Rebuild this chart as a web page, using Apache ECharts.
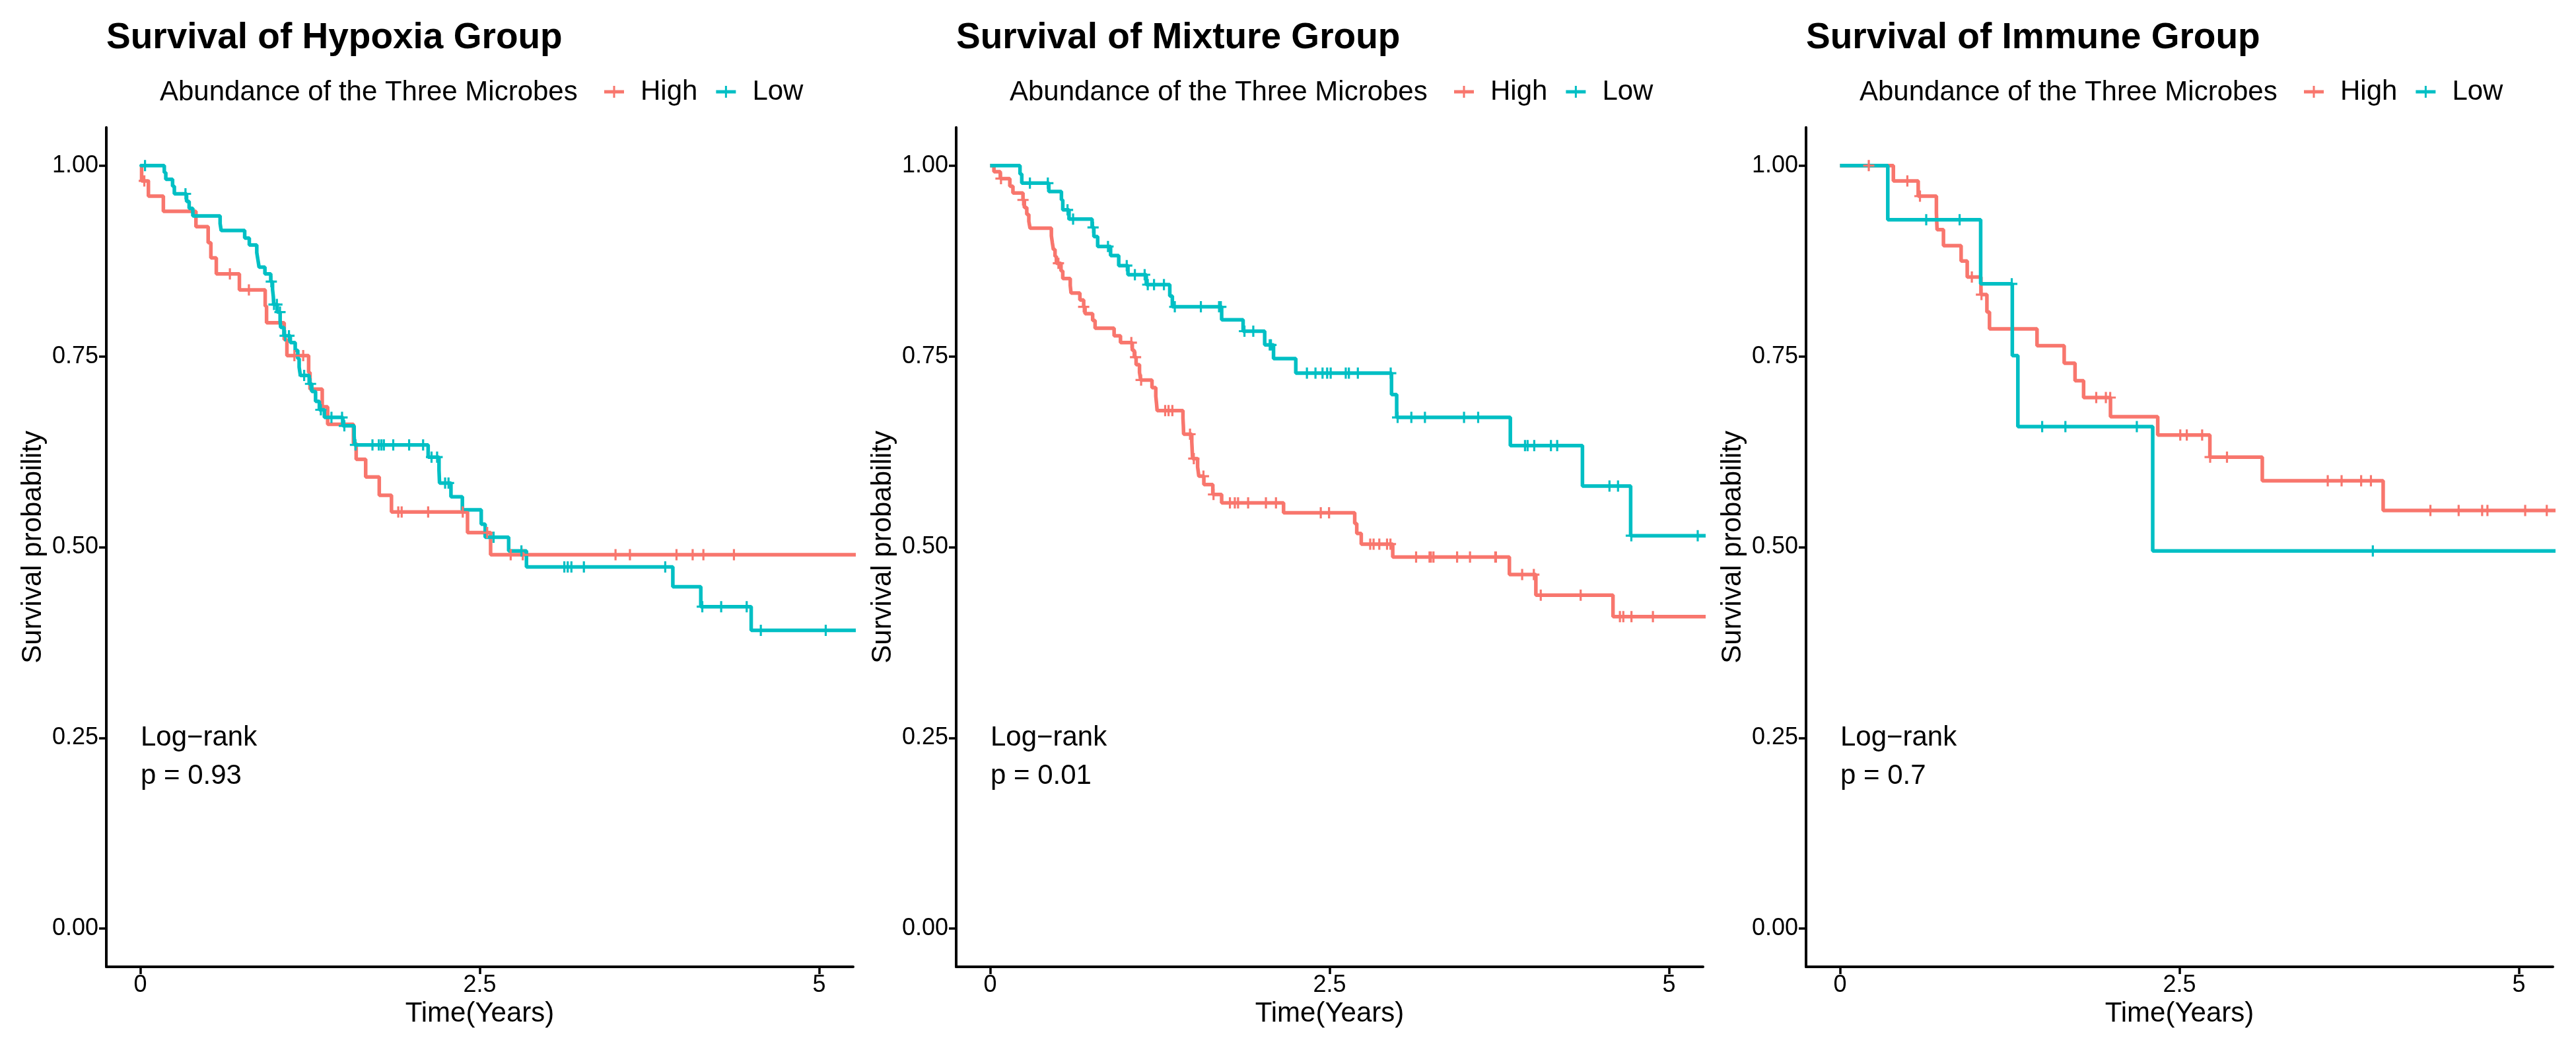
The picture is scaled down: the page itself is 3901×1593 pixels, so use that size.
<!DOCTYPE html>
<html>
<head>
<meta charset="utf-8">
<script src="https://cdn.jsdelivr.net/npm/echarts@6/dist/echarts.min.js"></script>
<style>
html,body{margin:0;padding:0;background:#ffffff;}
#chart{width:3901px;height:1593px;}
</style>
</head>
<body>
<div id="chart"></div>
<script>
// ---------------- DATA ----------------
var panelTitles = ['Survival of Hypoxia Group', 'Survival of Mixture Group', 'Survival of Immune Group'];
var legendTitle = 'Abundance of the Three Microbes';
var groupNames = ['High', 'Low'];
var pValues = ['p = 0.93', 'p = 0.01', 'p = 0.7'];
var methodLabel = 'Log\u2212rank';
var xTicks = [0, 2.5, 5];
var yTicks = [0, 0.25, 0.5, 0.75, 1];
var followEnd = 5.3;

// Hypoxia group
var hypHighT = [0.01, 0.06, 0.17, 0.41, 0.50, 0.52, 0.56, 0.73, 0.92, 0.93, 1.06, 1.08, 1.24, 1.25, 1.34, 1.38, 1.57, 1.59, 1.66, 1.76, 1.85, 2.41, 2.58];
var hypHighS = [0.980, 0.960, 0.940, 0.920, 0.899, 0.879, 0.858, 0.837, 0.816, 0.794, 0.772, 0.751, 0.729, 0.707, 0.684, 0.661, 0.636, 0.615, 0.592, 0.568, 0.546, 0.519, 0.490];
var hypHighCens = [0.03, 0.66, 0.80, 1.135, 1.20, 1.90, 1.925, 2.12, 2.375, 2.555, 2.728, 2.817, 3.50, 3.606, 3.949, 4.068, 4.147, 4.372];
var hypLowT = [0.177, 0.188, 0.238, 0.251, 0.341, 0.360, 0.387, 0.588, 0.596, 0.769, 0.803, 0.858, 0.866, 0.875, 0.918, 0.961, 0.974, 0.980, 0.983, 1.008, 1.030, 1.034, 1.058, 1.105, 1.141, 1.160, 1.170, 1.179, 1.244, 1.263, 1.291, 1.319, 1.356, 1.492, 1.575, 1.579, 2.120, 2.200, 2.204, 2.288, 2.372, 2.511, 2.540, 2.713, 2.844, 3.922, 4.128, 4.499];
var hypLowS = [0.991, 0.982, 0.973, 0.963, 0.953, 0.944, 0.934, 0.924, 0.915, 0.905, 0.896, 0.886, 0.877, 0.867, 0.858, 0.848, 0.838, 0.828, 0.818, 0.808, 0.797, 0.788, 0.777, 0.768, 0.758, 0.747, 0.736, 0.725, 0.714, 0.704, 0.691, 0.680, 0.670, 0.659, 0.646, 0.634, 0.618, 0.601, 0.584, 0.566, 0.549, 0.530, 0.513, 0.495, 0.474, 0.448, 0.422, 0.391];
var hypLowCens = [0.035, 0.333, 0.965, 0.985, 1.006, 1.029, 1.067, 1.095, 1.207, 1.254, 1.330, 1.408, 1.486, 1.503, 1.585, 1.710, 1.757, 1.776, 1.794, 1.863, 1.980, 2.083, 2.145, 2.186, 2.245, 2.270, 2.602, 2.807, 3.123, 3.148, 3.175, 3.267, 3.866, 4.139, 4.278, 4.466, 4.570, 5.048];

// Mixture group
var mixHighT = [0.028, 0.075, 0.145, 0.168, 0.242, 0.252, 0.270, 0.285, 0.294, 0.451, 0.458, 0.466, 0.478, 0.488, 0.522, 0.535, 0.590, 0.596, 0.661, 0.689, 0.699, 0.755, 0.773, 0.913, 0.960, 1.047, 1.062, 1.075, 1.100, 1.109, 1.192, 1.220, 1.225, 1.230, 1.420, 1.423, 1.425, 1.485, 1.488, 1.491, 1.528, 1.537, 1.574, 1.640, 1.705, 2.161, 2.685, 2.700, 2.733, 2.965, 3.824, 4.019, 4.587];
var mixHighS = [0.992, 0.983, 0.973, 0.964, 0.955, 0.945, 0.936, 0.927, 0.918, 0.908, 0.899, 0.890, 0.881, 0.872, 0.862, 0.852, 0.843, 0.833, 0.824, 0.815, 0.806, 0.797, 0.787, 0.777, 0.768, 0.758, 0.749, 0.739, 0.729, 0.719, 0.709, 0.698, 0.689, 0.679, 0.669, 0.659, 0.648, 0.638, 0.627, 0.616, 0.605, 0.593, 0.582, 0.569, 0.558, 0.545, 0.531, 0.518, 0.504, 0.487, 0.464, 0.437, 0.409];
var mixHighCens = [0.080, 0.242, 0.503, 0.689, 1.040, 1.071, 1.112, 1.289, 1.314, 1.342, 1.472, 1.500, 1.571, 1.645, 1.766, 1.802, 1.826, 1.900, 2.031, 2.105, 2.435, 2.496, 2.799, 2.824, 2.866, 2.923, 2.948, 3.137, 3.236, 3.246, 3.265, 3.439, 3.534, 3.720, 3.725, 3.918, 4.004, 4.055, 4.349, 4.638, 4.663, 4.723, 4.881];
var mixLowT = [0.220, 0.233, 0.432, 0.525, 0.535, 0.581, 0.751, 0.764, 0.792, 0.887, 0.947, 1.015, 1.150, 1.323, 1.342, 1.705, 1.863, 2.022, 2.087, 2.251, 2.956, 2.994, 3.831, 4.362, 4.717];
var mixLowS = [0.989, 0.977, 0.966, 0.955, 0.942, 0.930, 0.919, 0.907, 0.894, 0.882, 0.869, 0.857, 0.844, 0.829, 0.815, 0.798, 0.783, 0.765, 0.747, 0.728, 0.700, 0.670, 0.633, 0.580, 0.515];
var mixLowCens = [0.293, 0.425, 0.570, 0.611, 0.758, 0.868, 1.006, 1.066, 1.138, 1.161, 1.207, 1.280, 1.360, 1.552, 1.686, 1.699, 1.873, 1.938, 2.059, 2.068, 2.333, 2.396, 2.448, 2.482, 2.508, 2.619, 2.642, 2.708, 2.950, 3.001, 3.102, 3.202, 3.490, 3.594, 3.939, 3.958, 4.007, 4.130, 4.176, 4.561, 4.624, 4.722, 5.211];

// Immune group
var immHighT = [0.393, 0.576, 0.710, 0.715, 0.762, 0.892, 0.937, 1.038, 1.082, 1.101, 1.451, 1.651, 1.731, 1.794, 1.992, 2.340, 2.724, 3.110, 4.000];
var immHighS = [0.980, 0.960, 0.938, 0.916, 0.895, 0.875, 0.854, 0.831, 0.808, 0.786, 0.764, 0.741, 0.718, 0.696, 0.671, 0.647, 0.618, 0.587, 0.548];
var immHighCens = [0.212, 0.496, 0.589, 0.971, 1.042, 1.887, 1.958, 1.990, 2.506, 2.554, 2.667, 2.726, 2.850, 3.592, 3.694, 3.838, 3.910, 4.348, 4.556, 4.729, 4.768, 5.046, 5.205];
var immLowT = [0.352, 1.036, 1.269, 1.310, 2.303];
var immLowS = [0.929, 0.845, 0.751, 0.658, 0.495];
var immLowCens = [0.635, 0.881, 1.265, 1.489, 1.660, 2.186, 3.924];

// ---------------- STYLE / LAYOUT ----------------
var COLORS = ['#F8766D', '#00BFC4'];
var FONT = '"Liberation Sans", Arial, Helvetica, sans-serif';
var plotLefts = [161, 1448, 2735];
var plotTop = 193, plotW = 1131, plotH = 1271;

var panels = [
  {high: [hypHighT, hypHighS, hypHighCens], low: [hypLowT, hypLowS, hypLowCens]},
  {high: [mixHighT, mixHighS, mixHighCens], low: [mixLowT, mixLowS, mixLowCens]},
  {high: [immHighT, immHighS, immHighCens], low: [immLowT, immLowS, immLowCens]}
];

var PLUS = 'path://M-1.5,-8L1.5,-8L1.5,-1.5L8,-1.5L8,1.5L1.5,1.5L1.5,8L-1.5,8L-1.5,1.5L-8,1.5L-8,-1.5L-1.5,-1.5Z';
var KEY = 'path://M0,6.5L30,6.5L30,11.5L0,11.5Z M13.5,0L16.5,0L16.5,18L13.5,18Z';

function stepData(T, S) {
  var d = [[0, 1]];
  for (var i = 0; i < T.length; i++) d.push([T[i], S[i]]);
  d.push([followEnd, S[S.length - 1]]);
  return d;
}
function censorData(T, S, C) {
  return C.map(function (c) {
    var s = 1;
    for (var i = 0; i < T.length; i++) { if (T[i] <= c) s = S[i]; else break; }
    return [c, s];
  });
}

var grids = [], xAxes = [], yAxes = [], series = [], titles = [], legends = [];
panels.forEach(function (p, i) {
  var L = plotLefts[i];
  grids.push({left: L, top: plotTop, width: plotW, height: plotH, containLabel: false, outerBoundsMode: 'none'});
  titles.push({text: panelTitles[i], left: L, top: 30, padding: 0,
    textStyle: {fontFamily: FONT, fontSize: 55, fontWeight: 'bold', color: '#000'}});
  titles.push({text: legendTitle, left: L + 81, top: 119, padding: 0,
    textStyle: {fontFamily: FONT, fontSize: 42, fontWeight: 'normal', color: '#000'}});
  legends.push({data: groupNames, left: L + 754, top: 118, padding: 0, orient: 'horizontal',
    icon: KEY, itemWidth: 30, itemHeight: 18, itemGap: 28, selectedMode: false,
    itemStyle: {borderWidth: 0},
    textStyle: {fontFamily: FONT, fontSize: 42, color: '#000', padding: [0, 0, 0, 20]}});
  xAxes.push({gridIndex: i, type: 'value', min: -0.25, max: 5.25,
    name: 'Time(Years)', nameLocation: 'middle', nameGap: 49,
    nameTextStyle: {fontFamily: FONT, fontSize: 42, color: '#000'},
    axisLine: {show: true, onZero: false, lineStyle: {color: '#000', width: 4}},
    axisTick: {show: true, length: 11, customValues: xTicks, lineStyle: {color: '#000', width: 3.5}},
    axisLabel: {show: true, customValues: xTicks, margin: 10, fontFamily: FONT, fontSize: 36, color: '#000',
      formatter: function (v) { return String(v); }},
    splitLine: {show: false}});
  yAxes.push({gridIndex: i, type: 'value', min: -0.05, max: 1.05,
    name: 'Survival probability', nameLocation: 'middle', nameGap: 90, nameRotate: 90,
    nameTextStyle: {fontFamily: FONT, fontSize: 42, color: '#000'},
    axisLine: {show: true, onZero: false, lineStyle: {color: '#000', width: 4}},
    axisTick: {show: true, length: 11, customValues: yTicks, lineStyle: {color: '#000', width: 3.5}},
    axisLabel: {show: true, customValues: yTicks, margin: 12, fontFamily: FONT, fontSize: 36, color: '#000',
      formatter: function (v) { return v.toFixed(2); }},
    splitLine: {show: false}});
  [p.high, p.low].forEach(function (g, k) {
    series.push({name: groupNames[k], type: 'line', xAxisIndex: i, yAxisIndex: i,
      step: 'end', symbol: 'none', showSymbol: false, clip: true, z: 2 + k,
      color: COLORS[k], itemStyle: {color: COLORS[k], borderWidth: 0},
      lineStyle: {color: COLORS[k], width: 5.5},
      data: stepData(g[0], g[1]), animation: false, silent: true});
  });
  [p.high, p.low].forEach(function (g, k) {
    series.push({name: groupNames[k], type: 'scatter', xAxisIndex: i, yAxisIndex: i,
      symbol: PLUS, symbolSize: 17, symbolKeepAspect: true, clip: true, z: 5,
      itemStyle: {color: COLORS[k], opacity: 1},
      data: censorData(g[0], g[1], g[2]), animation: false, silent: true});
  });
  series.push({type: 'scatter', xAxisIndex: i, yAxisIndex: i, symbolSize: 1, z: 6,
    itemStyle: {color: 'rgba(0,0,0,0)'},
    label: {show: true, position: 'right', distance: 0, fontFamily: FONT, fontSize: 42, color: '#000',
      textBorderWidth: 0, opacity: 1,
      formatter: function (pr) { return pr.value[2]; }},
    data: [[0, 0.25, methodLabel], [0, 0.20, pValues[i]]], animation: false, silent: true});
});

var chart = echarts.init(document.getElementById('chart'), null, {renderer: 'canvas'});
chart.setOption({
  backgroundColor: '#ffffff',
  animation: false,
  textStyle: {fontFamily: FONT},
  title: titles,
  legend: legends,
  grid: grids,
  xAxis: xAxes,
  yAxis: yAxes,
  series: series
});
</script>
</body>
</html>
